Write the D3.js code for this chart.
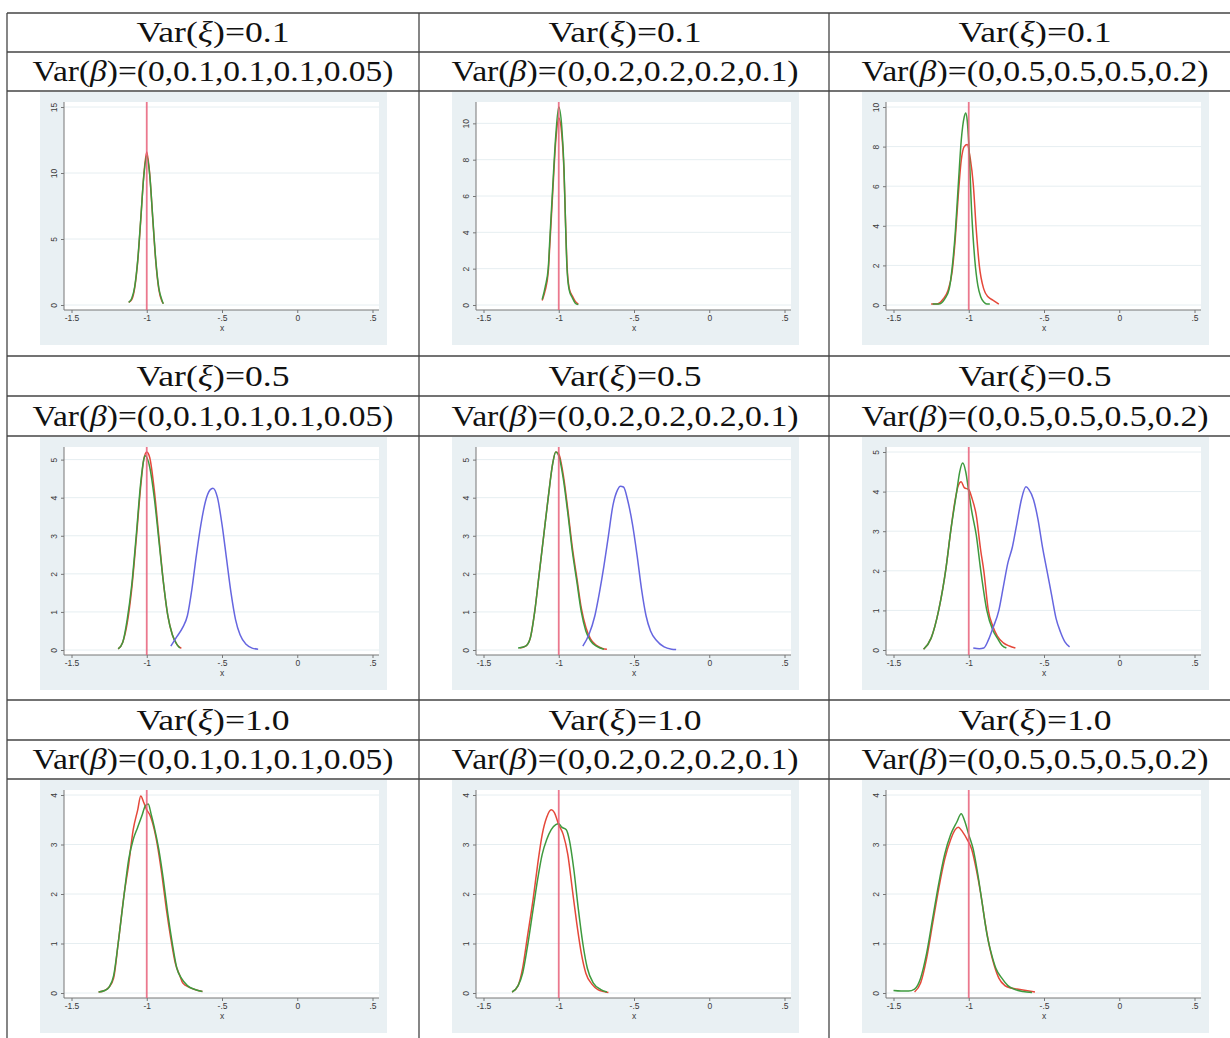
<!DOCTYPE html>
<html>
<head>
<meta charset="utf-8">
<script src="https://cdn.jsdelivr.net/npm/d3@7"></script>
<style>
body { margin: 0; background: #fff; }
.hdr { font-family: "Liberation Serif", serif; fill: #111; }
.tick text { font-family: "Liberation Sans", Arial, sans-serif; font-size: 8.5px; fill: #3a3a3a; }
</style>
</head>
<body>
<div id="chart"></div>
<script>
// table headers
var xiVars = ["0.1", "0.5", "1.0"];
var betaVars = ["(0,0.1,0.1,0.1,0.05)", "(0,0.2,0.2,0.2,0.1)", "(0,0.5,0.5,0.5,0.2)"];

// axes
var xTicks = [-1.5, -1, -0.5, 0, 0.5];
var xTickLabels = ["-1.5", "-1", "-.5", "0", ".5"];
var yTicksRow1 = [[0, 5, 10, 15], [0, 2, 4, 6, 8, 10], [0, 2, 4, 6, 8, 10]];
var yTicksRow2 = [0, 1, 2, 3, 4, 5];
var yTicksRow3 = [0, 1, 2, 3, 4];
var trueValue = -1;

// density curves, [x, density]
var red11 = [[-1.12,0.2],[-1.10,0.4],[-1.08,1.3],[-1.06,3.3],[-1.04,6.4],[-1.02,9.8],[-1.00,11.6],[-0.98,9.9],[-0.96,6.5],[-0.94,3.3],[-0.92,1.2],[-0.90,0.3],[-0.89,0.1]];
var green11 = [[-1.12,0.2],[-1.10,0.5],[-1.08,1.4],[-1.06,3.4],[-1.04,6.5],[-1.02,9.7],[-1.00,11.3],[-0.98,9.8],[-0.96,6.6],[-0.94,3.4],[-0.92,1.3],[-0.90,0.4],[-0.89,0.1]];
var red12 = [[-1.11,0.25],[-1.09,0.8],[-1.07,1.8],[-1.06,3.2],[-1.04,6.2],[-1.02,9.0],[-1.00,10.3],[-0.98,9.4],[-0.965,7.3],[-0.955,4.6],[-0.945,2.2],[-0.93,0.9],[-0.91,0.5],[-0.89,0.2],[-0.87,0.05]];
var green12 = [[-1.11,0.3],[-1.09,1.0],[-1.07,2.0],[-1.06,3.5],[-1.04,6.5],[-1.02,9.3],[-1.00,10.9],[-0.98,9.8],[-0.965,7.5],[-0.955,4.5],[-0.945,2.0],[-0.93,0.8],[-0.91,0.4],[-0.89,0.1],[-0.87,0.02]];
var red13 = [[-1.25,0.05],[-1.21,0.05],[-1.17,0.3],[-1.14,0.7],[-1.11,1.7],[-1.09,3.3],[-1.07,5.5],[-1.05,7.3],[-1.03,8.0],[-1.01,8.1],[-0.99,7.4],[-0.97,6.1],[-0.95,3.8],[-0.93,2.0],[-0.90,0.8],[-0.87,0.4],[-0.84,0.25],[-0.80,0.05]];
var green13 = [[-1.24,0.05],[-1.20,0.05],[-1.16,0.3],[-1.13,0.8],[-1.11,1.9],[-1.09,3.6],[-1.07,6.0],[-1.05,8.3],[-1.03,9.5],[-1.02,9.7],[-1.01,9.3],[-1.00,8.2],[-0.98,4.6],[-0.96,2.3],[-0.94,1.0],[-0.92,0.4],[-0.90,0.15],[-0.88,0.05],[-0.86,0.05]];

var red21 = [[-1.19,0.03],[-1.16,0.2],[-1.13,0.7],[-1.10,1.6],[-1.07,2.9],[-1.04,4.3],[-1.02,5.0],[-1.00,5.2],[-0.98,5.05],[-0.95,4.2],[-0.92,3.0],[-0.89,1.8],[-0.86,0.9],[-0.83,0.4],[-0.80,0.15],[-0.77,0.04]];
var green21 = [[-1.19,0.03],[-1.16,0.2],[-1.13,0.8],[-1.10,1.7],[-1.07,3.0],[-1.04,4.4],[-1.02,5.0],[-1.01,5.1],[-0.98,4.8],[-0.95,4.0],[-0.92,2.9],[-0.89,1.8],[-0.86,0.9],[-0.83,0.4],[-0.80,0.15],[-0.78,0.05]];
var blue21 = [[-0.84,0.1],[-0.80,0.35],[-0.76,0.6],[-0.73,0.9],[-0.70,1.6],[-0.67,2.5],[-0.64,3.3],[-0.61,3.9],[-0.58,4.2],[-0.56,4.25],[-0.53,4.0],[-0.50,3.3],[-0.47,2.4],[-0.44,1.5],[-0.41,0.8],[-0.38,0.4],[-0.34,0.15],[-0.30,0.05],[-0.26,0.02]];
var red22 = [[-1.26,0.05],[-1.22,0.1],[-1.19,0.3],[-1.16,1.0],[-1.13,2.0],[-1.10,3.0],[-1.07,4.0],[-1.04,4.9],[-1.02,5.2],[-1.00,5.15],[-0.97,4.6],[-0.94,3.7],[-0.91,2.7],[-0.88,1.9],[-0.85,1.1],[-0.82,0.6],[-0.79,0.3],[-0.75,0.12],[-0.71,0.04],[-0.68,0.02]];
var green22 = [[-1.27,0.05],[-1.22,0.1],[-1.19,0.3],[-1.16,1.0],[-1.13,2.0],[-1.10,3.0],[-1.07,4.0],[-1.04,4.9],[-1.02,5.2],[-1.00,5.1],[-0.97,4.5],[-0.94,3.6],[-0.91,2.6],[-0.88,1.8],[-0.85,1.0],[-0.82,0.5],[-0.79,0.25],[-0.75,0.1],[-0.70,0.02]];
var blue22 = [[-0.84,0.1],[-0.80,0.4],[-0.76,0.9],[-0.73,1.5],[-0.70,2.2],[-0.67,3.0],[-0.64,3.8],[-0.61,4.2],[-0.59,4.3],[-0.57,4.28],[-0.54,3.9],[-0.51,3.3],[-0.48,2.5],[-0.45,1.6],[-0.42,0.9],[-0.39,0.5],[-0.35,0.25],[-0.30,0.08],[-0.25,0.02],[-0.22,0.01]];
var red23 = [[-1.30,0.02],[-1.25,0.3],[-1.20,1.0],[-1.15,2.1],[-1.12,3.0],[-1.09,3.8],[-1.07,4.15],[-1.05,4.25],[-1.03,4.1],[-1.00,4.05],[-0.98,3.85],[-0.95,3.4],[-0.92,2.5],[-0.90,2.0],[-0.87,1.0],[-0.84,0.6],[-0.81,0.35],[-0.77,0.18],[-0.73,0.1],[-0.69,0.05]];
var green23 = [[-1.30,0.02],[-1.25,0.3],[-1.20,1.0],[-1.15,2.1],[-1.12,3.0],[-1.08,4.0],[-1.06,4.5],[-1.04,4.72],[-1.02,4.5],[-1.00,4.0],[-0.98,3.5],[-0.95,2.9],[-0.92,2.0],[-0.88,1.0],[-0.84,0.5],[-0.81,0.3],[-0.78,0.12],[-0.75,0.05]];
var blue23 = [[-0.97,0.05],[-0.93,0.03],[-0.90,0.05],[-0.87,0.25],[-0.84,0.55],[-0.80,1.0],[-0.77,1.6],[-0.74,2.2],[-0.71,2.6],[-0.68,3.2],[-0.65,3.8],[-0.62,4.12],[-0.60,4.05],[-0.57,3.8],[-0.54,3.3],[-0.51,2.6],[-0.48,2.0],[-0.45,1.4],[-0.42,0.8],[-0.39,0.45],[-0.36,0.2],[-0.33,0.08]];

var red31 = [[-1.32,0.02],[-1.28,0.05],[-1.25,0.12],[-1.22,0.3],[-1.19,1.0],[-1.15,2.0],[-1.12,2.6],[-1.09,3.3],[-1.06,3.7],[-1.04,3.98],[-1.02,3.85],[-1.00,3.7],[-0.98,3.6],[-0.95,3.3],[-0.93,3.0],[-0.90,2.4],[-0.87,1.7],[-0.84,1.1],[-0.81,0.6],[-0.78,0.35],[-0.76,0.2],[-0.72,0.12],[-0.67,0.06],[-0.63,0.03]];
var green31 = [[-1.32,0.02],[-1.28,0.05],[-1.25,0.12],[-1.22,0.35],[-1.19,1.0],[-1.15,2.0],[-1.12,2.7],[-1.09,3.1],[-1.06,3.35],[-1.03,3.6],[-1.01,3.78],[-0.99,3.82],[-0.97,3.6],[-0.95,3.35],[-0.92,2.9],[-0.89,2.3],[-0.86,1.6],[-0.83,1.0],[-0.80,0.5],[-0.77,0.3],[-0.73,0.15],[-0.68,0.07],[-0.63,0.03]];
var red32 = [[-1.31,0.02],[-1.27,0.15],[-1.24,0.5],[-1.21,1.1],[-1.17,1.9],[-1.14,2.6],[-1.11,3.2],[-1.08,3.55],[-1.05,3.7],[-1.03,3.65],[-1.00,3.4],[-0.97,3.2],[-0.94,2.8],[-0.91,2.1],[-0.88,1.4],[-0.85,0.8],[-0.82,0.4],[-0.78,0.18],[-0.74,0.07],[-0.70,0.03],[-0.67,0.01]];
var green32 = [[-1.31,0.02],[-1.27,0.15],[-1.24,0.4],[-1.21,0.9],[-1.17,1.7],[-1.14,2.3],[-1.11,2.8],[-1.08,3.1],[-1.05,3.3],[-1.02,3.4],[-1.00,3.42],[-0.98,3.35],[-0.95,3.3],[-0.93,3.1],[-0.90,2.5],[-0.87,1.7],[-0.84,1.0],[-0.81,0.5],[-0.77,0.2],[-0.72,0.07],[-0.68,0.02]];
var red33 = [[-1.36,0.02],[-1.32,0.2],[-1.28,0.7],[-1.24,1.4],[-1.20,2.1],[-1.16,2.7],[-1.12,3.1],[-1.09,3.3],[-1.07,3.35],[-1.04,3.25],[-1.01,3.1],[-0.98,2.9],[-0.95,2.5],[-0.92,2.0],[-0.89,1.4],[-0.86,0.9],[-0.83,0.55],[-0.80,0.3],[-0.76,0.15],[-0.72,0.1],[-0.68,0.08],[-0.64,0.06],[-0.60,0.04],[-0.56,0.02]];
var green33 = [[-1.50,0.05],[-1.45,0.04],[-1.40,0.04],[-1.36,0.08],[-1.32,0.3],[-1.28,0.8],[-1.24,1.5],[-1.20,2.2],[-1.16,2.8],[-1.12,3.2],[-1.08,3.45],[-1.05,3.62],[-1.03,3.5],[-1.00,3.2],[-0.97,2.9],[-0.94,2.4],[-0.91,1.8],[-0.88,1.2],[-0.85,0.8],[-0.82,0.5],[-0.78,0.3],[-0.74,0.15],[-0.70,0.08],[-0.64,0.03],[-0.58,0.01]];

var panels = [
  {row: 0, col: 0, ticks: yTicksRow1[0], red: red11, green: green11},
  {row: 0, col: 1, ticks: yTicksRow1[1], red: red12, green: green12},
  {row: 0, col: 2, ticks: yTicksRow1[2], red: red13, green: green13},
  {row: 1, col: 0, ticks: yTicksRow2, red: red21, green: green21, blue: blue21},
  {row: 1, col: 1, ticks: yTicksRow2, red: red22, green: green22, blue: blue22},
  {row: 1, col: 2, ticks: yTicksRow2, red: red23, green: green23, blue: blue23},
  {row: 2, col: 0, ticks: yTicksRow3, red: red31, green: green31},
  {row: 2, col: 1, ticks: yTicksRow3, red: red32, green: green32},
  {row: 2, col: 2, ticks: yTicksRow3, red: red33, green: green33}
];

var width = 1230, height = 1038;
var colLeft = [7, 419, 829], colWidth = 412;
var rowLines = [[13, 52, 91], [356, 396, 436], [700, 740, 779]];
var fontSize = 30;
var xiWidth = 153, betaWidth = [361, 347, 347];

var svg = d3.select("#chart").append("svg")
    .attr("width", width)
    .attr("height", height);

// header text
rowLines.forEach(function(lines, r) {
  colLeft.forEach(function(cx, c) {
    var mid = cx + colWidth / 2;
    var t1 = svg.append("text").attr("class", "hdr")
        .attr("x", mid).attr("y", (lines[0] + lines[1]) / 2 + fontSize * 0.32)
        .attr("text-anchor", "middle").style("font-size", fontSize + "px")
        .attr("textLength", xiWidth).attr("lengthAdjust", "spacingAndGlyphs");
    t1.append("tspan").text("Var(");
    t1.append("tspan").style("font-style", "italic").text("\u03BE");
    t1.append("tspan").text(")=" + xiVars[r]);

    var t2 = svg.append("text").attr("class", "hdr")
        .attr("x", mid).attr("y", (lines[1] + lines[2]) / 2 + fontSize * 0.32)
        .attr("text-anchor", "middle").style("font-size", fontSize + "px")
        .attr("textLength", betaWidth[c]).attr("lengthAdjust", "spacingAndGlyphs");
    t2.append("tspan").text("Var(");
    t2.append("tspan").style("font-style", "italic").text("\u03B2");
    t2.append("tspan").text(")=" + betaVars[c]);
  });
});

var line = d3.line()
    .x(function(d) { return d[0]; })
    .y(function(d) { return d[1]; })
    .curve(d3.curveMonotoneX);

panels.forEach(function(p) {
  var imgX = colLeft[p.col] + 33;
  var imgY = rowLines[p.row][2] + 1;
  var zeroY = imgY + 213;
  var g = svg.append("g");

  g.append("rect").attr("x", imgX).attr("y", imgY)
      .attr("width", 347).attr("height", 253).attr("fill", "#E9F0F3");
  g.append("rect").attr("x", imgX + 24).attr("y", imgY + 10)
      .attr("width", 315).attr("height", zeroY + 5 - imgY - 10).attr("fill", "#fff");

  var curves = [p.red, p.green].concat(p.blue ? [p.blue] : []);
  var yMax = Math.max(d3.max(p.ticks), d3.max(curves, function(c) { return d3.max(c, function(d) { return d[1]; }); }));

  var xScale = d3.scaleLinear().domain([-1.5, 0.5]).range([imgX + 31.5, imgX + 332.5]);
  var yScale = d3.scaleLinear().domain([0, yMax]).range([zeroY, imgY + 15]);

  // gridlines
  g.selectAll(".grid").data(p.ticks).enter().append("line")
      .attr("x1", imgX + 24).attr("x2", imgX + 339)
      .attr("y1", function(d) { return yScale(d); })
      .attr("y2", function(d) { return yScale(d); })
      .attr("stroke", "#E6EEF1").attr("stroke-width", 1);

  var yAxis = g.append("g")
      .attr("transform", "translate(" + (imgX + 24) + ",0)")
      .call(d3.axisLeft(yScale).tickValues(p.ticks).tickSize(3).tickSizeOuter(0).tickFormat(d3.format("d")));
  yAxis.select(".domain").attr("d", "M0," + (zeroY + 5) + "V" + (imgY + 10));
  yAxis.selectAll("line, .domain").attr("stroke", "#777");
  yAxis.selectAll("text")
      .attr("x", 0).attr("dy", "0.35em").attr("y", 0)
      .attr("text-anchor", "middle")
      .attr("transform", "translate(-10,0) rotate(-90)");

  var xAxis = g.append("g")
      .attr("transform", "translate(0," + (zeroY + 5) + ")")
      .call(d3.axisBottom(xScale).tickValues(xTicks).tickSize(3).tickSizeOuter(0)
        .tickFormat(function(d, i) { return xTickLabels[i]; }));
  xAxis.select(".domain").attr("d", "M" + (imgX + 24) + ",0H" + (imgX + 339));
  xAxis.selectAll("line, .domain").attr("stroke", "#777");
  xAxis.selectAll("text").attr("y", 5);

  g.append("text").attr("x", xScale(-0.5)).attr("y", zeroY + 26)
      .attr("text-anchor", "middle")
      .style("font-family", "Liberation Sans, Arial, sans-serif")
      .style("font-size", "8.5px").attr("fill", "#3a3a3a").text("x");

  var colors = [["red", "#E5483A"], ["green", "#3E9A3E"], ["blue", "#6666E0"]];
  colors.forEach(function(c) {
    var data = p[c[0]];
    if (!data) return;
    g.append("path")
        .attr("d", line(data.map(function(d) { return [xScale(d[0]), yScale(d[1])]; })))
        .attr("fill", "none").attr("stroke", c[1]).attr("stroke-width", 1.5);
  });

  g.append("line")
      .attr("x1", xScale(trueValue)).attr("x2", xScale(trueValue))
      .attr("y1", imgY + 10).attr("y2", zeroY + 5)
      .attr("stroke", "#E8607A").attr("stroke-opacity", 0.85).attr("stroke-width", 1.8);
});

// table rules
var hl = [].concat.apply([], rowLines);
svg.selectAll(".hrule").data(hl).enter().append("line")
    .attr("x1", colLeft[0]).attr("x2", width)
    .attr("y1", function(d) { return d; }).attr("y2", function(d) { return d; })
    .attr("stroke", "#444").attr("stroke-width", 1.3);
svg.selectAll(".vrule").data(colLeft).enter().append("line")
    .attr("x1", function(d) { return d; }).attr("x2", function(d) { return d; })
    .attr("y1", rowLines[0][0]).attr("y2", height)
    .attr("stroke", "#444").attr("stroke-width", 1.3);
</script>
</body>
</html>
